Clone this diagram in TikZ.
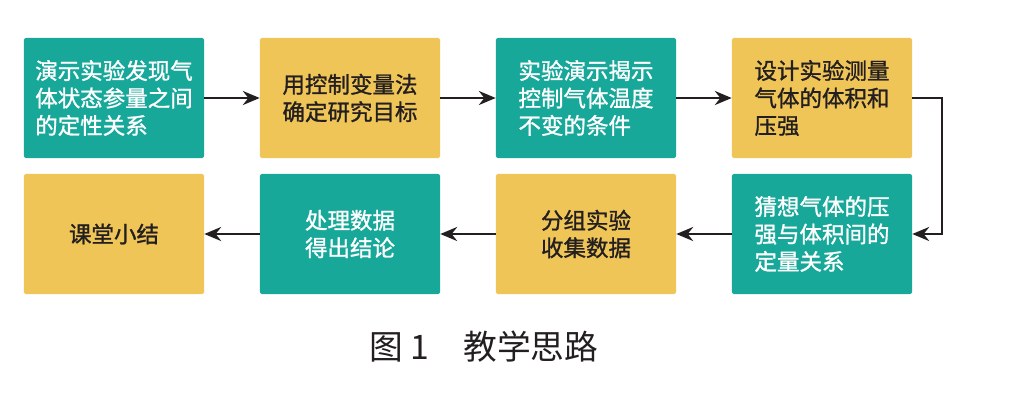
\documentclass[tikz,border=0pt]{standalone}
\usepackage{fontspec}
\setmainfont{Noto Sans CJK SC}
\newfontfamily\boxfont[FakeBold=1.2]{Noto Sans CJK SC}
\usetikzlibrary{arrows.meta}
\definecolor{tealbg}{HTML}{17A89A}
\definecolor{goldbg}{HTML}{EFC558}
\definecolor{ink}{HTML}{231F20}

\begin{document}
\begin{tikzpicture}[x = 0.025cm, y = -0.025cm,
  box/.style = {minimum width = 4.5cm, minimum height = 3cm, rounded corners = 1.5pt, inner sep = 0pt, align = left, font = \fontsize{16}{19.5}\boxfont},
  tealbox/.style = {box, fill = tealbg, text = white},
  goldbox/.style = {box, fill = goldbg, text = ink},
  flow/.style = {-{Stealth[length = 12pt, width = 10pt]}, line width = 1.5pt, draw = ink}]
\useasboundingbox (0,0) rectangle (1010,408);
% first row
\node[tealbox] (demo) at (114,98) {演示实验发现气\\体状态参量之间\\的定性关系};
\node[goldbox] (aim) at (350,98) {用控制变量法\\确定研究目标};
\node[tealbox] (temp) at (586,98) {实验演示揭示\\控制气体温度\\不变的条件};
\node[goldbox] (design) at (822,98) {设计实验测量\\气体的体积和\\压强};
% second row
\node[tealbox] (guess) at (822,234) {猜想气体的压\\强与体积间的\\定量关系};
\node[goldbox, align = center] (group) at (586,234) {分组实验\\收集数据};
\node[tealbox, align = center] (data) at (350,234) {处理数据\\得出结论};
\node[goldbox] (sum) at (114,234) {课堂小结};
\draw[flow] (demo) -- (aim);
\draw[flow] (aim) -- (temp);
\draw[flow] (temp) -- (design);
\draw[flow] (design.east) --+ (30,0) |- (guess.east);
\draw[flow] (guess) -- (group);
\draw[flow] (group) -- (data);
\draw[flow] (data) -- (sum);
\node[text = ink, font = \fontsize{24}{28}\selectfont] (title) at (484,347) {图 1\quad 教学思路};
\end{tikzpicture}
\end{document}
